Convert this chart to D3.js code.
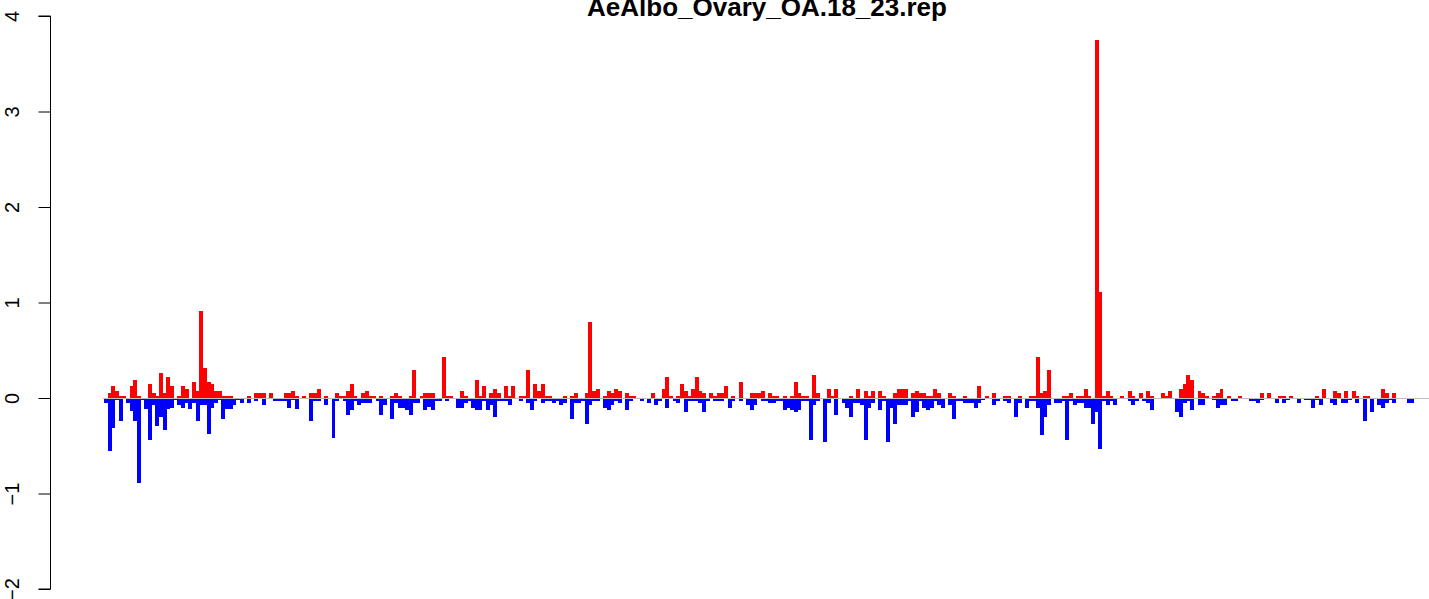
<!DOCTYPE html>
<html>
<head>
<meta charset="utf-8">
<script src="https://cdn.jsdelivr.net/npm/d3@7"></script>
<style>
  html, body { margin: 0; padding: 0; background: #fff; }
  svg { display: block; }
</style>
</head>
<body>
<svg id="chart" width="1429" height="599"></svg>
<script>
const title = "AeAlbo_Ovary_OA.18_23.rep";
const yTicks = [-2, -1, 0, 1, 2, 3, 4];

// positive (red) values per position
const posValues = [
  0,0.05,0.126,0.073,0.02,0.02,0,0.126,0.19,0.02,
  0,0,0.147,0.05,0.02,0.26,0.05,0.22,0.126,0,
  0.02,0.126,0.094,0,0.167,0.073,0.91,0.31,0.167,0.147,
  0.073,0.073,0.02,0.02,0.02,0,0,0,0,0.02,
  0,0.05,0.05,0.05,0,0.05,0,0,0,0.05,
  0.05,0.073,0.02,0,0.02,0,0.05,0.05,0.094,0,
  0.02,0,0,0.05,0.02,0.02,0.073,0.147,0.02,0,
  0.05,0.073,0.02,0.02,0,0.02,0,0,0.02,0.05,
  0.02,0,0,0.02,0.29,0,0.02,0.05,0.05,0.05,
  0,0,0.43,0.02,0.02,0,0,0.073,0.02,0,
  0,0.19,0.02,0.126,0,0.05,0.094,0.05,0,0.126,
  0.02,0.126,0,0.02,0.02,0.29,0,0.147,0.073,0.147,
  0.02,0.02,0,0,0,0.02,0,0.02,0.05,0,
  0,0.05,0.80,0.073,0.094,0,0.02,0.073,0.05,0.094,
  0.073,0,0.05,0.02,0.02,0,0,0,0,0.05,
  0,0,0.094,0.22,0.02,0,0.02,0.147,0.073,0.02,
  0.094,0.22,0.073,0.05,0,0.05,0.02,0.05,0.05,0.126,
  0,0.02,0,0.17,0,0,0.05,0.05,0.05,0.073,
  0,0.05,0.02,0.02,0,0.02,0,0.02,0.167,0.05,
  0.02,0.02,0,0.24,0.05,0,0,0.094,0.02,0.094,
  0,0,0,0.02,0,0.094,0,0.073,0.02,0.073,
  0,0.073,0.02,0,0,0.05,0.094,0.094,0.094,0,
  0.05,0.073,0.05,0.05,0.02,0.02,0.094,0.05,0,0,
  0.05,0.02,0,0,0.02,0,0,0,0.126,0,
  0.02,0,0.05,0,0,0.02,0.02,0,0,0.02,
  0,0,0.02,0.02,0.43,0.05,0.073,0.29,0,0,
  0,0.02,0.02,0.05,0,0.02,0.02,0.094,0.02,0,
  3.75,1.11,0.02,0.073,0.02,0,0,0.02,0,0.073,
  0.02,0,0.05,0,0.073,0.02,0,0,0.05,0.02,
  0.073,0,0,0.094,0.147,0.24,0.19,0,0.073,0.05,
  0.02,0,0.02,0.05,0.094,0,0.02,0,0,0.02,
  0,0,0,0,0,0.05,0,0.05,0,0,
  0.02,0.02,0,0.02,0,0,0,0,0,0,
  0.02,0,0.094,0,0,0.073,0.05,0,0.073,0,
  0.073,0.02,0,0.02,0.02,0,0,0,0.094,0.05,
  0,0.05,0,0,0,0,0
];

// negative (blue) values per position
const negValues = [
  -0.05,-0.55,-0.31,-0.02,-0.24,0,-0.05,-0.14,-0.24,-0.89,
  -0.02,-0.12,-0.44,-0.07,-0.29,-0.2,-0.34,-0.12,-0.1,-0.02,
  -0.07,-0.1,-0.05,-0.12,-0.05,-0.24,-0.07,-0.07,-0.38,-0.1,
  -0.05,-0.02,-0.22,-0.12,-0.12,-0.07,-0.02,-0.05,0,-0.05,
  0,-0.03,0,-0.07,0,0,-0.03,-0.03,-0.03,-0.03,
  -0.1,-0.02,-0.12,0,0,0,-0.24,-0.03,-0.03,0,
  -0.07,0,-0.42,-0.03,0,-0.03,-0.18,-0.126,-0.03,-0.07,
  -0.05,-0.05,-0.05,0,-0.03,-0.18,-0.07,0,-0.22,-0.05,
  -0.1,-0.1,-0.126,-0.18,-0.05,-0.05,0,-0.126,-0.094,-0.126,
  -0.03,-0.03,0,-0.03,0,0,-0.1,-0.1,-0.05,-0.03,
  -0.1,-0.126,-0.126,-0.03,-0.126,-0.07,-0.2,-0.03,-0.03,-0.03,
  -0.07,0,0,-0.03,0,-0.05,-0.126,-0.03,0,-0.05,
  -0.03,-0.03,-0.05,-0.03,-0.073,-0.05,0,-0.22,-0.05,-0.05,
  -0.03,-0.27,-0.073,-0.03,-0.03,0,-0.1,-0.126,-0.073,-0.03,
  -0.05,0,-0.126,-0.03,0,0,-0.03,0,-0.05,0,
  -0.073,-0.03,0,-0.1,0,-0.03,-0.05,0,-0.147,-0.03,
  -0.03,-0.03,-0.05,-0.147,-0.03,0,-0.03,-0.03,-0.03,0,
  -0.1,-0.03,0,-0.03,0,-0.073,-0.126,-0.073,0,-0.03,
  -0.03,-0.05,-0.05,-0.03,-0.03,-0.126,-0.1,-0.126,-0.147,-0.126,
  -0.03,-0.03,-0.44,-0.07,-0.03,0,-0.46,-0.05,0,-0.18,
  0,-0.05,-0.1,-0.2,-0.05,-0.05,-0.07,-0.44,-0.1,-0.05,
  0,-0.126,-0.03,-0.46,-0.1,-0.27,-0.07,-0.07,-0.07,-0.03,
  -0.2,-0.147,-0.03,-0.1,-0.126,-0.1,-0.03,-0.07,-0.1,0,
  -0.07,-0.22,-0.03,-0.03,-0.05,-0.05,-0.05,-0.1,-0.05,-0.02,
  0,0,-0.073,-0.03,0,-0.03,-0.05,0,-0.2,-0.05,
  0,-0.1,-0.03,-0.03,-0.1,-0.39,-0.2,-0.073,0,-0.05,
  -0.05,-0.03,-0.44,-0.03,-0.073,-0.05,-0.05,-0.1,-0.1,-0.27,
  -0.147,-0.53,-0.03,-0.073,-0.03,-0.073,0,0,0,-0.03,
  -0.073,-0.03,0,-0.03,-0.05,-0.126,0,0,0,-0.01,
  0,0,-0.147,-0.2,-0.05,-0.03,-0.126,0,-0.073,-0.073,
  0,0,-0.02,-0.1,-0.073,-0.073,0,-0.03,-0.03,0,
  0,0,-0.03,-0.03,-0.05,-0.02,0,0,0,-0.05,
  0,-0.05,-0.02,0,0,-0.05,0,-0.02,-0.02,-0.1,
  -0.02,-0.073,0,0,-0.05,-0.073,0,-0.05,-0.05,-0.02,
  0,-0.05,0,-0.24,0,-0.147,0,-0.073,-0.1,-0.05,
  -0.02,-0.05,0,0,0,-0.05,-0.05
];

const n = Math.min(posValues.length, negValues.length);
const idx = d3.range(n);

const svg = d3.select("#chart");

const x = d3.scaleBand().domain(idx).range([104, 1414]).padding(0);
const y = d3.scaleLinear().domain([-2, 4]).range([589, 16]);

// bars
svg.append("g").selectAll("rect.pos")
  .data(idx.filter(i => posValues[i] > 0))
  .join("rect")
  .attr("x", i => x(i))
  .attr("width", x.bandwidth() + 0.3)
  .attr("y", i => y(posValues[i]))
  .attr("height", i => y(0) - y(posValues[i]))
  .attr("fill", "#ff0000")
  .attr("shape-rendering", "crispEdges");

svg.append("g").selectAll("rect.neg")
  .data(idx.filter(i => negValues[i] < 0))
  .join("rect")
  .attr("x", i => x(i))
  .attr("width", x.bandwidth() + 0.3)
  .attr("y", y(0))
  .attr("height", i => y(negValues[i]) - y(0))
  .attr("fill", "#0000ff")
  .attr("shape-rendering", "crispEdges");

// zero line
svg.append("line")
  .attr("x1", 103).attr("x2", 1429)
  .attr("y1", Math.round(y(0)) + 0.5).attr("y2", Math.round(y(0)) + 0.5)
  .attr("stroke", "#bebebe").attr("stroke-width", 1);

// y axis
const yAxis = d3.axisLeft(y).tickValues(yTicks).tickSize(12).tickPadding(0)
  .tickFormat(d => d < 0 ? "\u2212" + Math.abs(d) : String(d));
const ag = svg.append("g").attr("transform", "translate(50.5,0)").call(yAxis);
ag.select(".domain").attr("d", `M-12,${y(4)}H0V${y(-2)}H-12`).attr("stroke", "#000").attr("stroke-width", 1);
ag.selectAll(".tick line").attr("stroke", "#000");
ag.selectAll(".tick text")
  .attr("x", null).attr("dy", null)
  .attr("transform", "translate(-31.5,0) rotate(-90)")
  .attr("text-anchor", "middle")
  .style("font-family", "'Liberation Sans', Arial, Helvetica, sans-serif")
  .style("font-size", "20px")
  .attr("fill", "#000");

// title
svg.append("text")
  .attr("x", 767).attr("y", 15.5)
  .attr("text-anchor", "middle")
  .attr("font-family", "'Liberation Sans', Arial, Helvetica, sans-serif")
  .attr("font-weight", "bold")
  .attr("font-size", 26)
  .text(title);
</script>
</body>
</html>
